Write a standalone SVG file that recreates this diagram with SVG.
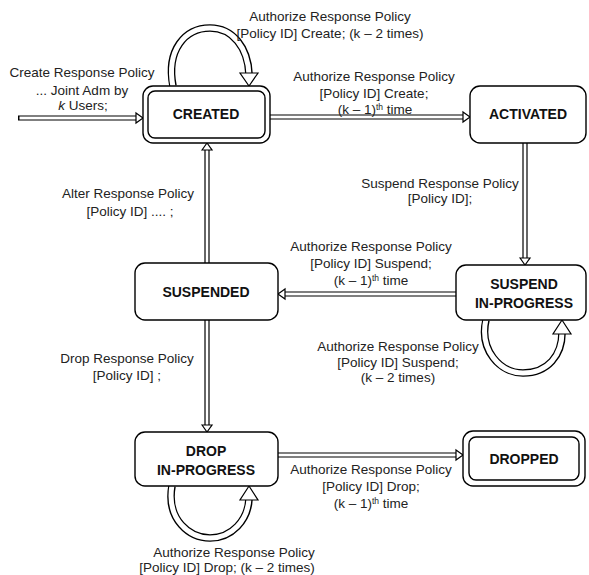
<svg xmlns="http://www.w3.org/2000/svg" width="589" height="575" viewBox="0 0 589 575">
<style>
.box{fill:#fff;stroke:#000;stroke-width:1.4}
.nl{font-family:"Liberation Sans",Arial,sans-serif;font-weight:bold;font-size:14px;text-anchor:middle;fill:#111}
.lb{font-family:"Liberation Sans",Arial,sans-serif;font-size:13.5px;text-anchor:middle;fill:#222}
.sup{font-size:8.5px}
.lo{fill:none;stroke:#000;stroke-width:5.2}
.li{fill:none;stroke:#fff;stroke-width:2.8}
.co{fill:none;stroke:#000;stroke-width:7.6}
.ci{fill:none;stroke:#fff;stroke-width:5}
.ah{fill:#fff;stroke:#000;stroke-width:1.2;stroke-linejoin:miter}
</style>
<rect width="589" height="575" fill="#fff"/>
<g id="connectors">
  <path class="lo" d="M18 118 H137"/><path class="li" d="M19.5 118 H138"/>
  <polygon class="ah" points="136,113 143,118 136,123"/>
  <path class="lo" d="M270 117 H464"/><path class="li" d="M269 117 H465"/>
  <polygon class="ah" points="463,112 470,117 463,122"/>
  <path class="lo" d="M525 143 V259"/><path class="li" d="M525 142 V260"/>
  <polygon class="ah" points="520,258 525,265 530,258"/>
  <path class="lo" d="M456 294 H284"/><path class="li" d="M457 294 H283"/>
  <polygon class="ah" points="285,289 278,294 285,299"/>
  <path class="lo" d="M207 263 V149"/><path class="li" d="M207 264 V148"/>
  <polygon class="ah" points="202,150 207,143 212,150"/>
  <path class="lo" d="M207 320 V426"/><path class="li" d="M207 319 V427"/>
  <polygon class="ah" points="202,425 207,432 212,425"/>
  <path class="lo" d="M278 455 H457"/><path class="li" d="M277 455 H458"/>
  <polygon class="ah" points="456,450 463,455 456,460"/>
  <path class="co" d="M173 86 C166 50 185 28 210 28 C233 28 248 48 249 74"/>
  <path class="ci" d="M173 87 C166 50 185 28 210 28 C233 28 248 48 249 75"/>
  <polygon class="ah" points="240,73 258,73 249,86"/>
  <path class="co" d="M486 320 C479 350 500 373 523 373 C548 373 562 355 562 333"/>
  <path class="ci" d="M486 319 C479 350 500 373 523 373 C548 373 562 355 562 332"/>
  <polygon class="ah" points="553,334 571,334 562,320"/>
  <path class="co" d="M172 486 C166 520 190 538 210 538 C232 538 248 520 249 499"/>
  <path class="ci" d="M172 485 C166 520 190 538 210 538 C232 538 248 520 249 498"/>
  <polygon class="ah" points="240,500 258,500 249,486"/>
</g>
<g id="n-created">
  <rect class="box" x="143" y="86" width="127" height="57" rx="10"/>
  <rect class="box" x="148" y="91" width="117" height="47" rx="7"/>
  <text class="nl" x="206" y="119">CREATED</text>
</g>
<g id="n-activated">
  <rect class="box" x="470" y="86" width="116" height="57" rx="10"/>
  <text class="nl" x="528" y="119">ACTIVATED</text>
</g>
<g id="n-suspend-inprogress">
  <rect class="box" x="456" y="265" width="130" height="55" rx="10"/>
  <text class="nl" x="524" y="289">SUSPEND</text>
  <text class="nl" x="524" y="308">IN-PROGRESS</text>
</g>
<g id="n-suspended">
  <rect class="box" x="135" y="263" width="143" height="57" rx="10"/>
  <text class="nl" x="206" y="297">SUSPENDED</text>
</g>
<g id="n-drop-inprogress">
  <rect class="box" x="135" y="432" width="143" height="54" rx="10"/>
  <text class="nl" x="206" y="456">DROP</text>
  <text class="nl" x="206" y="475">IN-PROGRESS</text>
</g>
<g id="n-dropped">
  <rect class="box" x="463" y="431" width="122" height="55" rx="10"/>
  <rect class="box" x="469" y="437" width="110" height="43" rx="7"/>
  <text class="nl" x="524" y="464">DROPPED</text>
</g>
<g id="labels">
  <text class="lb" x="82" y="77">Create Response Policy</text>
  <text class="lb" x="82" y="95">... Joint Adm by</text>
  <text class="lb" x="83" y="110"><tspan font-style="italic">k</tspan> Users;</text>

  <text class="lb" x="330" y="21">Authorize Response Policy</text>
  <text class="lb" x="330" y="38">[Policy ID] Create; (k – 2 times)</text>

  <text class="lb" x="374" y="81">Authorize Response Policy</text>
  <text class="lb" x="374" y="98">[Policy ID] Create;</text>
  <text class="lb" x="375" y="114">(k – 1)<tspan class="sup" dy="-4">th</tspan><tspan dy="4"> time</tspan></text>

  <text class="lb" x="440" y="188">Suspend Response Policy</text>
  <text class="lb" x="440" y="203">[Policy ID];</text>

  <text class="lb" x="128" y="198">Alter Response Policy</text>
  <text class="lb" x="130" y="216">[Policy ID] .... ;</text>

  <text class="lb" x="371" y="251">Authorize Response Policy</text>
  <text class="lb" x="371" y="268">[Policy ID] Suspend;</text>
  <text class="lb" x="371" y="285">(k – 1)<tspan class="sup" dy="-4">th</tspan><tspan dy="4"> time</tspan></text>

  <text class="lb" x="398" y="351">Authorize Response Policy</text>
  <text class="lb" x="398" y="367">[Policy ID] Suspend;</text>
  <text class="lb" x="398" y="382">(k – 2 times)</text>

  <text class="lb" x="127" y="363">Drop Response Policy</text>
  <text class="lb" x="127" y="380">[Policy ID] ;</text>

  <text class="lb" x="371" y="474">Authorize Response Policy</text>
  <text class="lb" x="371" y="491">[Policy ID] Drop;</text>
  <text class="lb" x="371" y="508">(k – 1)<tspan class="sup" dy="-4">th</tspan><tspan dy="4"> time</tspan></text>

  <text class="lb" x="234" y="557">Authorize Response Policy</text>
  <text class="lb" x="227" y="572">[Policy ID] Drop; (k – 2 times)</text>
</g>
</svg>
